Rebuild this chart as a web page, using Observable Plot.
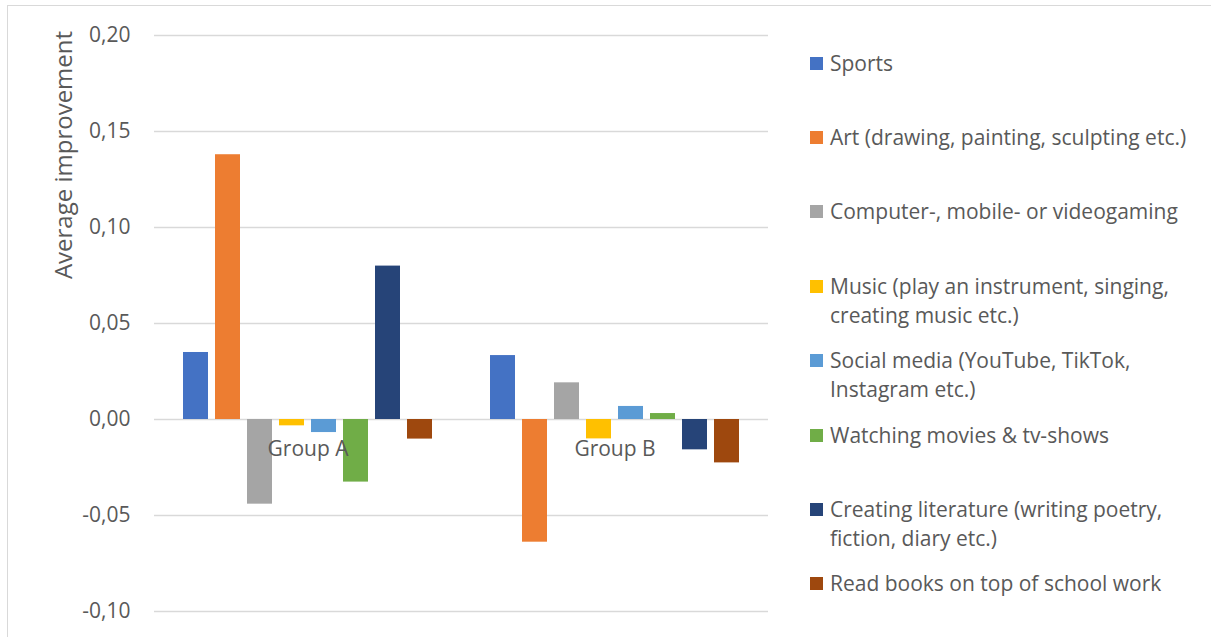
<!DOCTYPE html>
<html><head><meta charset="utf-8">
<script src="https://cdn.jsdelivr.net/npm/d3@7"></script>
<script src="https://cdn.jsdelivr.net/npm/@observablehq/plot@0.6"></script>
<style>
body{margin:0;background:#fff;font-family:"Open Sans",sans-serif;}
#wrap{position:relative;width:1211px;height:637px;overflow:hidden;background:#fff;}
#border{position:absolute;left:7px;top:5px;width:1240px;height:660px;border:1px solid #d9d9d9;box-sizing:border-box;}
#chart{position:absolute;left:0;top:0;}
#ytitle{position:absolute;left:62px;top:155px;transform:translate(-50%,-50%) rotate(-90deg);font-size:24px;color:#595959;white-space:nowrap;}
.item{position:absolute;left:810px;width:400px;height:70px;}
.sw{position:absolute;left:0;top:8px;width:13px;height:13px;}
.lab{position:absolute;left:20px;top:0;width:385px;font-size:21px;line-height:29px;color:#595959;}
</style>
</head><body>
<div id="wrap"><div id="border"></div><div id="chart"></div><div id="ytitle"></div><div id="legend"></div></div>
<script>
const groups = ["Group A", "Group B"];
const categories = [
  "Sports",
  "Art (drawing, painting, sculpting etc.)",
  "Computer-, mobile- or videogaming",
  "Music (play an instrument, singing, creating music etc.)",
  "Social media (YouTube, TikTok, Instagram etc.)",
  "Watching movies & tv-shows",
  "Creating literature (writing poetry, fiction, diary etc.)",
  "Read books on top of school work"
];
const colors = ["#4472C4", "#ED7D31", "#A5A5A5", "#FFC000", "#5B9BD5", "#70AD47", "#264478", "#9E480E"];
const groupAValues = [0.0349, 0.1379, -0.0441, -0.0033, -0.0068, -0.0326, 0.0799, -0.0102];
const groupBValues = [0.0333, -0.0639, 0.0191, -0.0101, 0.0068, 0.0031, -0.0158, -0.0226];
const yTicks = [-0.10, -0.05, 0, 0.05, 0.10, 0.15, 0.20];
const yTitle = "Average improvement";

const data = [];
categories.forEach((c, i) => {
  data.push({group: groups[0], category: c, value: groupAValues[i]});
  data.push({group: groups[1], category: c, value: groupBValues[i]});
});

const fmt = d => d3.format(".2f")(d).replace(".", ",").replace("\u2212", "-");

const chart = Plot.plot({
  width: 1211, height: 637,
  marginLeft: 154, marginRight: 443, marginTop: 35, marginBottom: 26,
  style: {fontFamily: "Open Sans", fontSize: "21px", color: "#595959", background: "transparent"},
  fx: {domain: groups, padding: 0, axis: null},
  x: {domain: categories, axis: null, paddingInner: 0.22, paddingOuter: 0.85},
  y: {domain: [-0.10, 0.20], axis: null},
  color: {domain: categories, range: colors},
  marks: [
    Plot.gridY(yTicks, {stroke: "#d9d9d9", strokeOpacity: 1, strokeWidth: 1.3}),
    Plot.axisY(yTicks, {tickSize: 0, tickPadding: 24, tickFormat: fmt, fill: "#595959", fontSize: 21, label: null}),
    Plot.barY(data, {fx: "group", x: "category", y: "value", fill: "category"}),
    Plot.text(groups, {fx: d => d, y: 0, text: d => d, dy: 30, fill: "#595959", fontSize: 21})
  ]
});
document.getElementById("chart").appendChild(chart);
document.getElementById("ytitle").textContent = yTitle;

const legend = document.getElementById("legend");
categories.forEach((c, i) => {
  const it = document.createElement("div");
  it.className = "item";
  it.style.top = (63 + i * 74.4 - 14.5) + "px";
  const sw = document.createElement("div");
  sw.className = "sw";
  sw.style.background = colors[i];
  const lab = document.createElement("div");
  lab.className = "lab";
  lab.textContent = c;
  it.appendChild(sw); it.appendChild(lab);
  legend.appendChild(it);
});
</script>
</body></html>
